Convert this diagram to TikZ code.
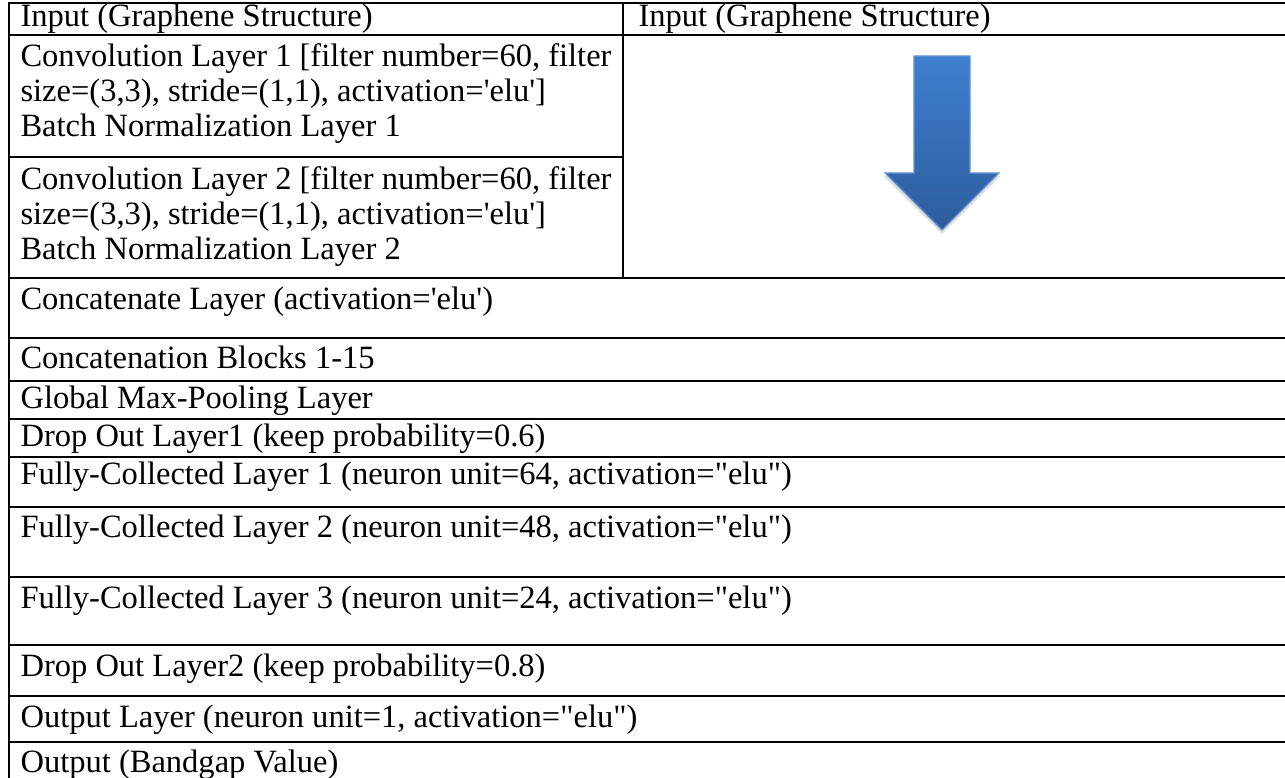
\documentclass[tikz,border=0pt]{standalone}
\usepackage{fontspec}
\setmainfont{Liberation Serif}
\usetikzlibrary{positioning}
\definecolor{arrowtop}{RGB}{62,127,206}
\definecolor{arrowbot}{RGB}{45,92,157}
\definecolor{arrowedge}{RGB}{100,148,212}
\newcommand{\sq}{\textquotesingle}
\newcommand{\dq}{\textquotedbl}

\begin{document}
\begin{tikzpicture}[x=0.369pt,y=-0.369pt,
  cell/.style={anchor=base west,inner sep=0pt,font=\fontsize{12}{13.5}\selectfont},
  rule/.style={line width=0.6pt}]
  \useasboundingbox (0,0) rectangle (1285,778);
  % table rules
  \draw[rule] (9,778) -- (9,3) -- (1285,3);
  \draw[rule] (623,3) -- (623,278);
  \draw[rule] (9,157) -- (623,157);
  \foreach \y in {35,278,338,381,419,457,507,577,645,696,742}
    \draw[rule] (9,\y) -- (1285,\y);
  % arrow in the right cell
  \fill[black,opacity=0.12] (914,59) -- (970,59) -- (970,176) -- (1001,176)
    -- (942,234) -- (883,176) -- (914,176) -- cycle;
  \shade[top color=arrowtop,bottom color=arrowbot,draw=arrowedge,line width=0.4pt]
    (914,56) -- (970,56) -- (970,173) -- (999,173) -- (942,230)
    -- (885,173) -- (914,173) -- cycle;
  % header row
  \node[cell] (inleft) at (20,27) {Input (Graphene Structure)};
  \node[cell] (inright) at (638,27) {Input (Graphene Structure)};
  % convolution blocks
  \node[cell] (conva1) at (20,67) {Convolution Layer 1 [filter number=60, filter};
  \node[cell] (conva2) at (20,102) {size=(3,3), stride=(1,1), activation=\sq elu\sq]};
  \node[cell] (conva3) at (20,137) {Batch Normalization Layer 1};
  \node[cell] (convb1) at (20,190) {Convolution Layer 2 [filter number=60, filter};
  \node[cell] (convb2) at (20,225) {size=(3,3), stride=(1,1), activation=\sq elu\sq]};
  \node[cell] (convb3) at (20,260) {Batch Normalization Layer 2};
  % remaining layers
  \node[cell] (concat) at (20,310) {Concatenate Layer (activation=\sq elu\sq)};
  \node[cell] (blocks) at (20,369) {Concatenation Blocks 1-15};
  \node[cell] (pool) at (20,409) {Global Max-Pooling Layer};
  \node[cell] (dropa) at (20,447) {Drop Out Layer1 (keep probability=0.6)};
  \node[cell] (fca) at (20,485) {Fully-Collected Layer 1 (neuron unit=64, activation=\dq elu\dq)};
  \node[cell] (fcb) at (20,538) {Fully-Collected Layer 2 (neuron unit=48, activation=\dq elu\dq)};
  \node[cell] (fcc) at (20,608) {Fully-Collected Layer 3 (neuron unit=24, activation=\dq elu\dq)};
  \node[cell] (dropb) at (20,676) {Drop Out Layer2 (keep probability=0.8)};
  \node[cell] (outlayer) at (20,727) {Output Layer (neuron unit=1, activation=\dq elu\dq)};
  \node[cell] (output) at (20,772) {Output (Bandgap Value)};
\end{tikzpicture}
\end{document}
